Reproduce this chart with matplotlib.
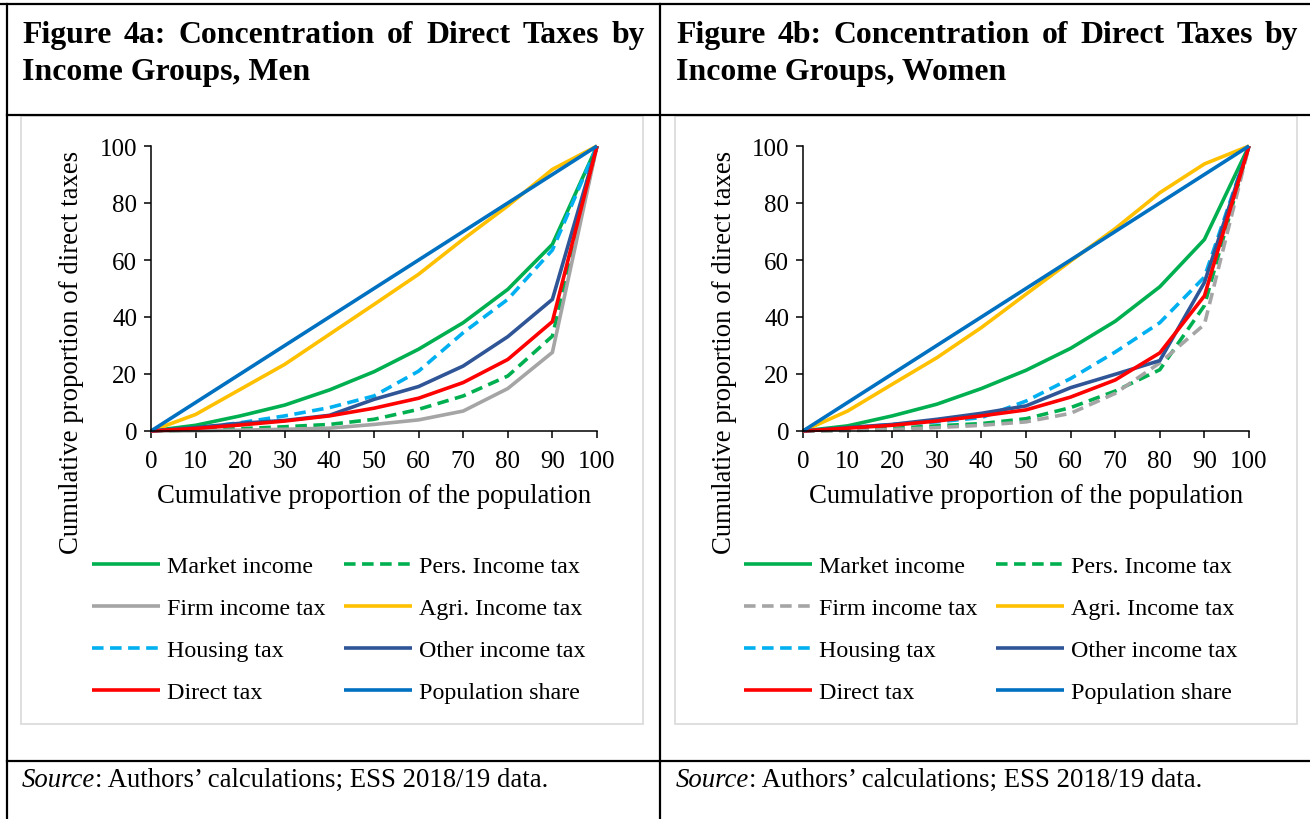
import matplotlib
matplotlib.use("Agg")
import matplotlib.pyplot as plt
from matplotlib.lines import Line2D
from matplotlib.patches import Rectangle

plt.rcParams['font.family'] = ['Liberation Serif', 'DejaVu Serif']

W, H = 1310, 820

# ---- data -------------------------------------------------------------
population = [0, 10, 20, 30, 40, 50, 60, 70, 80, 90, 100]
x_ticks = [0, 10, 20, 30, 40, 50, 60, 70, 80, 90, 100]
y_ticks = [0, 20, 40, 60, 80, 100]

series_names = ["Market income", "Pers. Income tax", "Firm income tax",
                "Agri. Income tax", "Housing tax", "Other income tax",
                "Direct tax", "Population share"]

men_market = [0, 2.0, 5.3, 9.1, 14.4, 20.8, 28.7, 38.0, 49.7, 65.5, 100]
men_pers = [0, 0.3, 0.8, 1.5, 2.3, 4.1, 7.6, 12.3, 19.3, 33.3, 100]
men_firm = [0, 0.1, 0.3, 0.6, 1.0, 2.3, 3.9, 7.0, 14.9, 27.6, 100]
men_agri = [0, 5.8, 14.6, 23.4, 33.9, 44.4, 55.0, 67.3, 79.0, 91.8, 100]
men_housing = [0, 1.0, 2.9, 5.3, 8.2, 12.3, 21.0, 34.5, 46.2, 63.5, 100]
men_other = [0, 1.2, 2.7, 3.7, 5.5, 11.1, 15.6, 22.8, 33.1, 46.2, 100]
men_direct = [0, 0.9, 2.1, 3.5, 5.3, 8.0, 11.5, 17.0, 25.1, 38.4, 100]
men_population = [0, 10, 20, 30, 40, 50, 60, 70, 80, 90, 100]

women_market = [0, 1.8, 5.3, 9.4, 14.9, 21.3, 29.0, 38.5, 50.6, 67.2, 100]
women_pers = [0, 0.3, 0.9, 1.8, 2.6, 4.3, 8.2, 14.0, 21.5, 44.0, 100]
women_firm = [0, 0.1, 0.5, 1.2, 2.0, 3.2, 6.2, 13.2, 23.9, 37.4, 100]
women_agri = [0, 7.0, 16.4, 25.7, 36.3, 48.0, 59.6, 71.0, 83.6, 93.7, 100]
women_housing = [0, 1.0, 2.3, 3.2, 4.7, 10.5, 18.4, 27.7, 38.0, 54.0, 100]
women_other = [0, 1.2, 2.3, 4.1, 6.2, 8.8, 15.2, 19.9, 24.7, 52.1, 100]
women_direct = [0, 1.0, 2.0, 3.5, 5.3, 7.4, 11.9, 17.9, 27.4, 47.4, 100]
women_population = [0, 10, 20, 30, 40, 50, 60, 70, 80, 90, 100]

men_series = [men_market, men_pers, men_firm, men_agri, men_housing,
              men_other, men_direct, men_population]
women_series = [women_market, women_pers, women_firm, women_agri,
                women_housing, women_other, women_direct, women_population]

colors = ["#00B050", "#00B050", "#A5A5A5", "#FFC000", "#00B0F0",
          "#2F5597", "#FF0000", "#0070C0"]
men_dashed = [False, True, False, False, True, False, False, False]
women_dashed = [False, True, True, False, True, False, False, False]

titles = [("Figure 4a: Concentration of Direct Taxes by", "Income Groups, Men"),
          ("Figure 4b: Concentration of Direct Taxes by", "Income Groups, Women")]
source_lead = "Source"
source_rest = ": Authors\u2019 calculations; ESS 2018/19 data."
x_label = "Cumulative proportion of the population"
y_label = "Cumulative proportion of direct taxes"

# ---- helpers in pixel space ----------------------------------------------
def fx(px):
    return px / W

def fy(py):
    return 1 - py / H

fig = plt.figure(figsize=(W / 100, H / 100), dpi=100)
fig.patch.set_facecolor("white")
renderer = fig.canvas.get_renderer()

LW = 2.6
DASH = (3.2, 1.8)


def table_line(x0, y0, x1, y1, lw=1.6):
    fig.add_artist(Line2D([fx(x0), fx(x1)], [fy(y0), fy(y1)],
                          color="black", lw=lw, transform=fig.transFigure,
                          solid_capstyle="projecting"))


def text_width(s, **kw):
    t = fig.text(0, 0, s, **kw)
    w = t.get_window_extent(renderer=renderer).width
    t.remove()
    return w


def justified(line, x0, x1, baseline, **kw):
    words = line.split(" ")
    widths = [text_width(wd, **kw) for wd in words]
    gap = (x1 - x0 - sum(widths)) / (len(words) - 1)
    pos = x0
    for wd, w in zip(words, widths):
        fig.text(fx(pos), fy(baseline), wd, ha="left", va="baseline", **kw)
        pos += w + gap


# ---- table grid -----------------------------------------------------------
table_line(0, 5, W, 5)
table_line(7, 5, 7, H)
table_line(660, 5, 660, H)
table_line(7, 116, W, 116)
table_line(7, 762, W, 762)

title_kw = dict(fontsize=22.9, fontweight="bold", color="black")
src_kw = dict(fontsize=19.3, color="black")

panels = [
    dict(box=(21, 117, 643, 725), ax=(151, 147, 597, 432), tx=(22, 645),
         series=men_series, dashed=men_dashed, legx=92, ylab_x=72),
    dict(box=(675, 117, 1297, 725), ax=(803, 147, 1249, 432), tx=(676, 1298),
         series=women_series, dashed=women_dashed, legx=744, ylab_x=724),
]

for i, p in enumerate(panels):
    # titles
    justified(titles[i][0], p["tx"][0], p["tx"][1], 43, **title_kw)
    fig.text(fx(p["tx"][0]), fy(80), titles[i][1], ha="left", va="baseline",
             **title_kw)

    # source note
    sx = p["tx"][0]
    fig.text(fx(sx), fy(787), source_lead, ha="left", va="baseline",
             style="italic", **src_kw)
    lead_w = text_width(source_lead, style="italic", **src_kw)
    fig.text(fx(sx + lead_w), fy(787), source_rest, ha="left", va="baseline",
             **src_kw)

    # chart frame
    bx0, by0, bx1, by1 = p["box"]
    fig.add_artist(Rectangle((fx(bx0), fy(by1)), (bx1 - bx0) / W,
                             (by1 - by0) / H, transform=fig.transFigure,
                             facecolor="white", edgecolor="#D9D9D9", lw=1.2,
                             zorder=0))

    ax0, ay0, ax1, ay1 = p["ax"]
    ax = fig.add_axes([fx(ax0), fy(ay1), (ax1 - ax0) / W, (ay1 - ay0) / H])
    ax.patch.set_alpha(0)
    handles = []
    for name, vals, col, dsh in zip(series_names, p["series"], colors,
                                    p["dashed"]):
        ln, = ax.plot(population, vals, color=col, lw=LW, label=name,
                      clip_on=False, solid_joinstyle="miter",
                      solid_capstyle="butt")
        if dsh:
            ln.set_dashes(DASH)
            ln.set_dash_capstyle("butt")
        handles.append(ln)

    ax.set_xlim(0, 100)
    ax.set_ylim(0, 100)
    ax.set_xticks(x_ticks)
    ax.set_yticks(y_ticks)
    for s in ("top", "right"):
        ax.spines[s].set_visible(False)
    for s in ("left", "bottom"):
        ax.spines[s].set_color("black")
        ax.spines[s].set_linewidth(1.1)
    ax.tick_params(direction="out", length=5, width=1.1, color="black",
                   labelsize=18, labelcolor="black")
    ax.tick_params(axis="x", pad=9)
    ax.tick_params(axis="y", pad=5)

    fig.text(fx((ax0 + ax1) / 2), fy(497), x_label, ha="center", va="center",
             fontsize=19.3, color="black")
    fig.text(fx(p["ylab_x"]), fy(352), y_label, ha="center", va="center",
             rotation=90, fontsize=19.3, color="black")

    # legend: two columns, filled row by row
    order = [0, 2, 4, 6, 1, 3, 5, 7]
    leg = fig.legend([handles[k] for k in order],
                     [series_names[k] for k in order],
                     ncol=2, loc="upper left",
                     bbox_to_anchor=(fx(p["legx"]), fy(556.5)),
                     frameon=False, fontsize=17.3, handlelength=2.85,
                     handletextpad=0.28, columnspacing=0.75,
                     labelspacing=0.84, borderpad=0, borderaxespad=0)

fig.savefig("out.png", dpi=100, facecolor="white")
